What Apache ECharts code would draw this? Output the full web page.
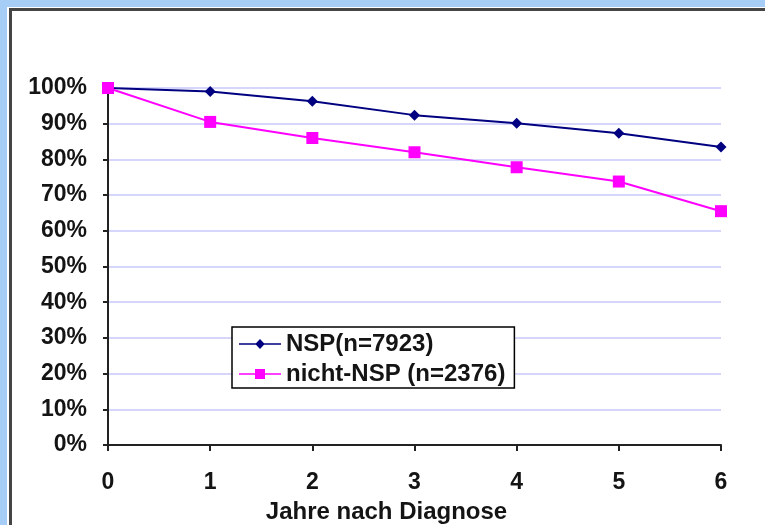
<!DOCTYPE html>
<html><head><meta charset="utf-8">
<script src="https://cdn.jsdelivr.net/npm/echarts@6/dist/echarts.min.js"></script>
<style>html,body{margin:0;padding:0;background:#fff}#c{width:765px;height:525px}</style>
</head><body><div id="c"></div>
<script>
const categories = ['0','1','2','3','4','5','6'];
const nspValues = [100, 99.0, 96.3, 92.4, 90.1, 87.3, 83.5];
const nichtNspValues = [100, 90.5, 86.0, 82.0, 77.8, 73.8, 65.5];
const seriesNames = ['NSP(n=7923)', 'nicht-NSP (n=2376)'];
const xAxisTitle = 'Jahre nach Diagnose';

const font = 'Liberation Sans, Arial, sans-serif';
const txt = {fontFamily: font, fontWeight: 'bold', fontSize: 23, color: '#141414'};
const txt24 = Object.assign({}, txt, {fontSize: 24});
const chart = echarts.init(document.getElementById('c'), null, {renderer:'canvas'});
chart.setOption({
  animation: false,
  backgroundColor: '#fff',
  grid: {left:108, right:44, top:88, bottom:80, containLabel:false, outerBoundsMode: 'none'},
  legend: {
    left: 232, top: 327, orient: 'vertical',
    backgroundColor: '#fff', borderColor: '#000', borderWidth: 1.5,
    padding: [4, 9, 1, 7], itemGap: 4, itemWidth: 42, itemHeight: 10,
    textStyle: Object.assign({lineHeight: 26}, txt24),
    data: [
      {name: seriesNames[0], icon: 'path://M0,4.3 L17,4.3 L21,0 L25,4.3 L42,4.3 L42,5.7 L25,5.7 L21,10 L17,5.7 L0,5.7 Z', itemStyle:{color:'#000080'}},
      {name: seriesNames[1], icon: 'path://M0,4.3 L16,4.3 L16,0 L26,0 L26,4.3 L42,4.3 L42,5.7 L26,5.7 L26,10 L16,10 L16,5.7 L0,5.7 Z', itemStyle:{color:'#ff00ff'}}
    ]
  },
  xAxis: {
    type: 'category', data: categories, boundaryGap: false,
    name: xAxisTitle, nameLocation: 'middle', nameGap: 55,
    nameTextStyle: Object.assign({padding: [0, 56, 0, 0]}, txt24),
    axisLine: {lineStyle: {color: '#222', width: 2}},
    axisTick: {show: true, length: 6, lineStyle: {color: '#222', width: 2}, alignWithLabel: true},
    axisLabel: Object.assign({margin: 26}, txt),
    splitLine: {show: false}
  },
  yAxis: {
    type: 'value', min: 0, max: 100, interval: 10,
    axisLine: {show: true, lineStyle: {color: '#222', width: 2}},
    axisTick: {show: true, length: 5, lineStyle: {color: '#222', width: 2}},
    axisLabel: Object.assign({margin: 21, formatter: '{value}%'}, txt),
    splitLine: {show: true, lineStyle: {color: '#c8c8f8', width: 1.5}}
  },
  series: [
    {name: seriesNames[0], type: 'line', data: nspValues, symbol: 'diamond', symbolSize: 11,
     itemStyle: {color: '#000080'}, lineStyle: {color: '#000080', width: 2}, z: 3},
    {name: seriesNames[1], type: 'line', data: nichtNspValues, symbol: 'rect', symbolSize: 12,
     itemStyle: {color: '#ff00ff'}, lineStyle: {color: '#ff00ff', width: 2}, z: 4}
  ],
  graphic: [
    {type: 'rect', shape: {x: 0, y: 0, width: 765, height: 7}, style: {fill: '#a6cdf6'}, z: 100},
    {type: 'rect', shape: {x: 0, y: 0, width: 7, height: 525}, style: {fill: '#a6cdf6'}, z: 100},
    {type: 'rect', shape: {x: 9, y: 8, width: 756, height: 3}, style: {fill: '#444'}, z: 101},
    {type: 'rect', shape: {x: 9, y: 8, width: 3, height: 517}, style: {fill: '#444'}, z: 101}
  ]
});
</script></body></html>
